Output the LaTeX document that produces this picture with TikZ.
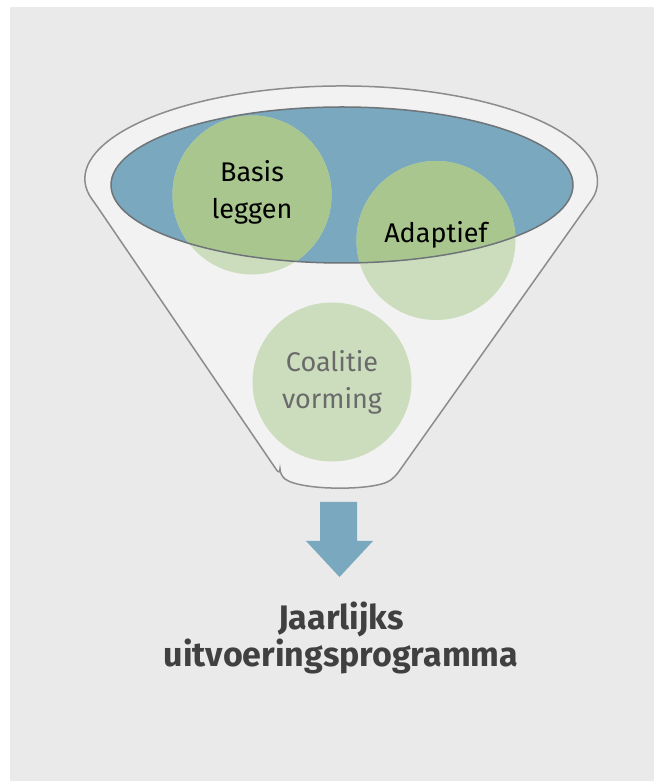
\documentclass[tikz,border=0pt]{standalone}
\usepackage{fontspec}
\setmainfont{Fira Sans}
\definecolor{bggrey}{HTML}{EAEAEA}
\definecolor{funnelfill}{HTML}{F2F2F2}
\definecolor{funnelline}{HTML}{8C8C8C}
\definecolor{rimline}{HTML}{6E7478}
\definecolor{rimblue}{HTML}{79A8BF}
\definecolor{lightgreen}{HTML}{CCDDBE}
\definecolor{darkgreen}{HTML}{A9C68F}
\definecolor{titlegrey}{HTML}{404040}
\definecolor{softgrey}{HTML}{6A6A6A}

\begin{document}
\begin{tikzpicture}[x = 1pt, y = 1pt, % pixel units
        line width = 1.5pt,
        bubble/.style = {circle, fill = lightgreen, minimum size = 159pt,
            inner sep = 0pt},
        bubbletext/.style = {align = center, inner sep = 0pt,
            font = \fontsize{27}{37}\selectfont}
    ]

    \useasboundingbox (0,0) rectangle (654,781);
    \fill[bggrey] (10,0) rectangle (654,774);

    % funnel body
    \draw[funnelline, fill = funnelfill, rounded corners = 6pt]
        (280,306) -- (95.69,576.67)
        arc[start angle = 195, end angle = -15, x radius = 255, y radius = 94]
        -- (395,304) .. controls (375,290) and (300,290) .. cycle;

    % top of the funnel
    \fill[rimblue] (342,596) ellipse[x radius = 231, y radius = 78];

    \node[bubble] (basis) at (252,586) {};
    \node[bubble] (adaptief) at (436,540.5) {};
    \node[bubble] (coalitie) at (332,399) {};

    \begin{scope}
        \clip (342,596) ellipse[x radius = 231, y radius = 78];
        \fill[darkgreen] (basis.center) circle[radius = 79.5];
        \fill[darkgreen] (adaptief.center) circle[radius = 79.5];
    \end{scope}
    \draw[rimline] (342,596) ellipse[x radius = 231, y radius = 78];

    \node[bubbletext, yshift = 3pt] at (basis) {Basis\\leggen};
    \node[bubbletext, yshift = 6pt] at (adaptief) {Adaptief};
    \node[bubbletext, text = softgrey] at (coalitie) {Coalitie\\vorming};

    % arrow down
    \fill[rimblue] (320,279) -- (357,279) -- (357,240) -- (373,240)
        -- (339.5,204) -- (306,240) -- (320,240) -- cycle;

    \node[align = center, inner sep = 0pt, text = titlegrey,
        font = \bfseries\fontsize{34}{37}\selectfont] (title) at (341,143)
        {Jaarlijks\\uitvoeringsprogramma};
\end{tikzpicture}
\end{document}
